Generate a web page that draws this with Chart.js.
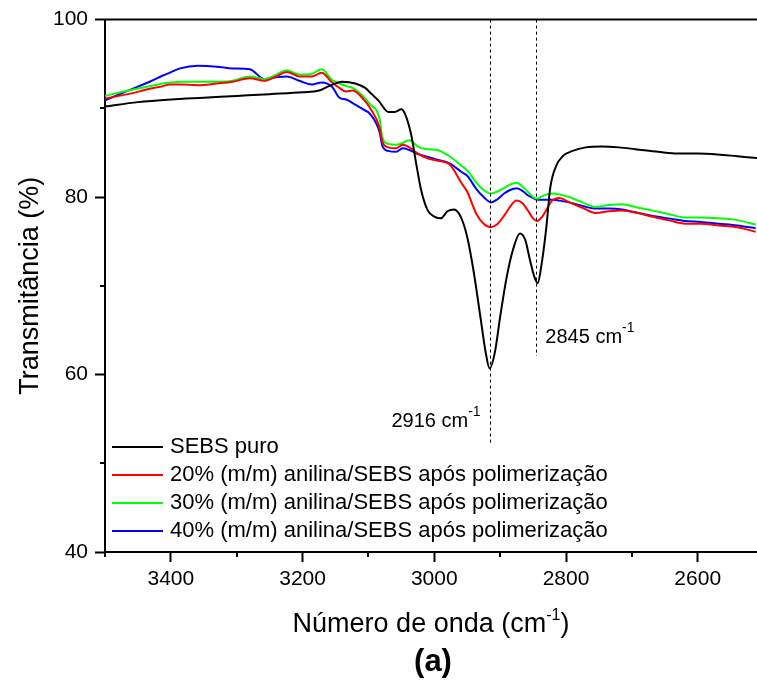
<!DOCTYPE html>
<html>
<head>
<meta charset="utf-8">
<script src="https://cdn.jsdelivr.net/npm/chart.js@4.4.1/dist/chart.umd.min.js"></script>
<style>
  html, body { margin: 0; padding: 0; background: #fff; }
</style>
</head>
<body>
<canvas id="myChart" width="757" height="684"></canvas>
<script>
// wavenumbers (cm-1) and transmittance (%)
const wnBlack = [3500, 3450, 3400, 3350, 3300, 3250, 3200, 3175, 3160, 3140, 3120, 3105, 3095, 3085, 3070, 3060, 3050, 3044, 3035, 3028, 3020, 3010, 3000, 2990, 2980, 2970, 2960, 2950, 2940, 2930, 2922, 2916, 2908, 2900, 2890, 2880, 2870, 2862, 2855, 2848, 2843, 2838, 2830, 2824, 2815, 2805, 2790, 2770, 2745, 2720, 2695, 2660, 2630, 2600, 2570, 2540, 2510];
const sebsPuro = [90.2, 90.7, 91.0, 91.2, 91.4, 91.6, 91.8, 92.0, 92.5, 93.0, 92.8, 92.3, 91.6, 90.9, 89.6, 89.6, 89.9, 89.3, 87.0, 84.0, 80.8, 78.5, 77.8, 77.6, 78.4, 78.6, 77.8, 75.5, 71.5, 66.5, 62.5, 60.7, 62.5, 66.5, 71.0, 74.2, 75.9, 75.2, 73.0, 71.0, 70.3, 72.0, 76.5, 81.0, 83.5, 84.6, 85.2, 85.6, 85.7, 85.6, 85.4, 85.1, 84.9, 84.9, 84.8, 84.6, 84.4];

const wnPani = [3500, 3465, 3432, 3412, 3402, 3386, 3359, 3330, 3306, 3280, 3258, 3240, 3224, 3205, 3186, 3171, 3155, 3144, 3134, 3124, 3106, 3098, 3083, 3079, 3070, 3058, 3048, 3038, 3023, 3008, 2995, 2977, 2958, 2950, 2936, 2925, 2914, 2905, 2894, 2885, 2875, 2866, 2858, 2850, 2844, 2836, 2821, 2810, 2795, 2775, 2755, 2735, 2715, 2690, 2670, 2645, 2619, 2595, 2568, 2540, 2512];
const pani20 = [91.1, 91.6, 92.2, 92.5, 92.7, 92.7, 92.6, 92.8, 93.0, 93.4, 93.1, 93.6, 94.1, 93.6, 93.6, 94.0, 92.9, 92.3, 91.9, 92.0, 90.9, 90.1, 87.8, 86.3, 85.6, 85.5, 85.9, 85.6, 84.8, 84.3, 84.1, 83.7, 81.5, 80.6, 78.1, 77.0, 76.6, 76.9, 77.9, 78.9, 79.6, 79.3, 78.5, 77.6, 77.3, 77.8, 79.6, 79.9, 79.4, 78.8, 78.2, 78.4, 78.5, 78.2, 77.8, 77.4, 77.0, 77.0, 76.8, 76.6, 76.1];
const pani30 = [91.4, 92.0, 92.5, 92.8, 92.9, 93.0, 93.0, 93.0, 93.1, 93.6, 93.3, 93.8, 94.3, 93.8, 93.9, 94.4, 93.2, 92.8, 92.5, 92.3, 91.2, 90.5, 88.8, 86.8, 86.0, 85.9, 86.1, 86.4, 85.6, 85.4, 85.3, 84.6, 83.5, 83.0, 81.6, 80.8, 80.4, 80.6, 81.0, 81.4, 81.6, 81.2, 80.6, 80.0, 79.8, 80.1, 80.4, 80.3, 80.0, 79.4, 78.9, 79.1, 79.2, 78.8, 78.5, 78.1, 77.7, 77.7, 77.6, 77.4, 76.9];
const pani40 = [90.9, 92.0, 93.0, 93.7, 94.0, 94.5, 94.8, 94.7, 94.5, 94.4, 93.3, 93.5, 93.6, 93.1, 92.7, 92.9, 92.4, 91.2, 91.0, 90.6, 89.8, 89.4, 87.3, 85.8, 85.2, 85.1, 85.5, 85.3, 84.8, 84.5, 84.2, 83.8, 82.8, 82.4, 80.9, 80.0, 79.4, 79.7, 80.4, 80.8, 81.0, 80.7, 80.2, 79.9, 79.7, 79.7, 79.7, 79.6, 79.4, 79.0, 78.7, 78.7, 78.6, 78.2, 77.9, 77.6, 77.3, 77.2, 77.0, 76.8, 76.5];

const seriesLabels = [
  "SEBS puro",
  "20% (m/m) anilina/SEBS após polimerização",
  "30% (m/m) anilina/SEBS após polimerização",
  "40% (m/m) anilina/SEBS após polimerização"
];
const seriesColors = ["#000000", "#ff0000", "#00ff00", "#0000ff"];

const xMajorTicks = [3400, 3200, 3000, 2800, 2600];
const xMinorTicks = [3500, 3300, 3100, 2900, 2700];
const yMajorTicks = [40, 60, 80, 100];
const yMinorTicks = [50, 70, 90];

// marked bands: wavenumber, lower end of dashed line (%)
const bandWn = [2916, 2845];
const bandEnd = [52.0, 62.1];

const FONT = 'Arial, "Liberation Sans", sans-serif';
Chart.defaults.font.family = FONT;
Chart.defaults.color = "#000";

function pts(xs, ys) {
  return xs.map((x, i) => ({ x: x, y: ys[i] }));
}

// text with a superscript part
function supText(ctx, base, sup, x, y, size, supSize, rise, align) {
  ctx.font = size + "px " + FONT;
  const wb = ctx.measureText(base).width;
  ctx.font = supSize + "px " + FONT;
  const ws = ctx.measureText(sup).width;
  let x0 = x;
  if (align === "right") x0 = x - wb - ws;
  if (align === "center") x0 = x - (wb + ws) / 2;
  ctx.textAlign = "left";
  ctx.textBaseline = "alphabetic";
  ctx.font = size + "px " + FONT;
  ctx.fillText(base, x0, y);
  ctx.font = supSize + "px " + FONT;
  ctx.fillText(sup, x0 + wb, y - rise);
  return x0 + wb + ws;
}

const extras = {
  id: "extras",
  afterDraw(chart) {
    const ctx = chart.ctx;
    const a = chart.chartArea;
    const xs = chart.scales.x, ys = chart.scales.y;
    ctx.save();
    ctx.fillStyle = "#000";
    ctx.strokeStyle = "#000";

    // top frame line
    ctx.lineWidth = 2;
    ctx.beginPath();
    ctx.moveTo(a.left - 1, a.top);
    ctx.lineTo(a.right, a.top);
    ctx.stroke();

    // minor ticks
    xMinorTicks.forEach(v => {
      const p = Math.round(xs.getPixelForValue(v));
      ctx.beginPath();
      ctx.moveTo(p, a.bottom);
      ctx.lineTo(p, a.bottom + 5);
      ctx.stroke();
    });
    yMinorTicks.forEach(v => {
      const p = Math.round(ys.getPixelForValue(v));
      ctx.beginPath();
      ctx.moveTo(a.left - 5, p);
      ctx.lineTo(a.left, p);
      ctx.stroke();
    });

    // dashed band markers
    ctx.lineWidth = 1;
    ctx.setLineDash([3, 3]);
    bandWn.forEach((w, i) => {
      const px = Math.round(xs.getPixelForValue(w)) + 0.5;
      ctx.beginPath();
      ctx.moveTo(px, a.top);
      ctx.lineTo(px, ys.getPixelForValue(bandEnd[i]));
      ctx.stroke();
    });
    ctx.setLineDash([]);

    const p1 = xs.getPixelForValue(bandWn[0]);
    supText(ctx, bandWn[0] + " cm", "-1", p1 - 9, ys.getPixelForValue(54.1), 20, 14, 11, "right");
    const p2 = xs.getPixelForValue(bandWn[1]);
    supText(ctx, bandWn[1] + " cm", "-1", p2 + 9, ys.getPixelForValue(63.6), 20, 14, 11, "left");

    // legend
    chart.data.datasets.forEach((ds, i) => {
      const yy = 447 + i * 28;
      ctx.strokeStyle = ds.borderColor;
      ctx.lineWidth = 2;
      ctx.beginPath();
      ctx.moveTo(112, yy);
      ctx.lineTo(163, yy);
      ctx.stroke();
      ctx.fillStyle = "#000";
      ctx.font = "22px " + FONT;
      ctx.textAlign = "left";
      ctx.textBaseline = "middle";
      ctx.fillText(ds.label, 170, yy);
    });

    // axis titles
    ctx.fillStyle = "#000";
    const cx = (a.left + a.right) / 2;
    ctx.font = "27px " + FONT;
    const wBase = ctx.measureText("Número de onda (cm").width;
    ctx.font = "16px " + FONT;
    const wSup = ctx.measureText("-1").width;
    ctx.font = "27px " + FONT;
    const wEnd = ctx.measureText(")").width;
    const x0 = cx - (wBase + wSup + wEnd) / 2;
    const endX = supText(ctx, "Número de onda (cm", "-1", x0, 632, 27, 16, 12, "left");
    ctx.font = "27px " + FONT;
    ctx.fillText(")", endX, 632);

    ctx.save();
    ctx.translate(38, (a.top + a.bottom) / 2);
    ctx.rotate(-Math.PI / 2);
    ctx.font = "27px " + FONT;
    ctx.textAlign = "center";
    ctx.textBaseline = "alphabetic";
    ctx.fillText("Transmitância (%)", 0, 0);
    ctx.restore();

    ctx.font = "bold 31px " + FONT;
    ctx.textAlign = "center";
    ctx.textBaseline = "middle";
    ctx.fillText("(a)", cx + 2, 662);

    ctx.restore();
  }
};

new Chart("myChart", {
  type: "line",
  data: {
    datasets: [
      { label: seriesLabels[0], data: pts(wnBlack, sebsPuro), borderColor: seriesColors[0] },
      { label: seriesLabels[1], data: pts(wnPani, pani20), borderColor: seriesColors[1] },
      { label: seriesLabels[2], data: pts(wnPani, pani30), borderColor: seriesColors[2] },
      { label: seriesLabels[3], data: pts(wnPani, pani40), borderColor: seriesColors[3] },
    ],
  },
  options: {
    responsive: false,
    animation: false,
    layout: { padding: { top: 19, right: 0, left: 0, bottom: 0 } },
    elements: {
      point: { radius: 0 },
      line: { borderWidth: 2, fill: false, cubicInterpolationMode: "monotone" },
    },
    plugins: { legend: { display: false }, tooltip: { enabled: false } },
    scales: {
      x: {
        type: "linear",
        reverse: true,
        min: 2510,
        max: 3500,
        afterBuildTicks: s => { s.ticks = xMajorTicks.map(v => ({ value: v })); },
        afterFit: s => { s.height = 132; },
        ticks: { font: { size: 21 }, color: "#000", padding: 5, maxRotation: 0, autoSkip: false, callback: v => String(v) },
        grid: { drawOnChartArea: false, tickLength: 10, tickWidth: 2, tickColor: "#000" },
        border: { color: "#000", width: 2 },
      },
      y: {
        min: 40,
        max: 100,
        afterBuildTicks: s => { s.ticks = yMajorTicks.map(v => ({ value: v })); },
        afterFit: s => { s.width = 105; },
        ticks: { font: { size: 21 }, color: "#000", padding: 7, callback: v => String(v) },
        grid: { drawOnChartArea: false, tickLength: 10, tickWidth: 2, tickColor: "#000" },
        border: { color: "#000", width: 2 },
      },
    },
  },
  plugins: [extras],
});
</script>
</body>
</html>
